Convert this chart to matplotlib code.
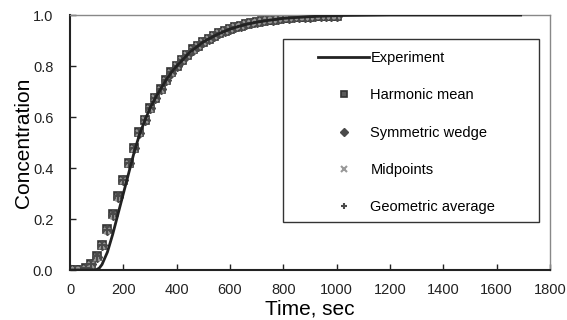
import numpy as np
import matplotlib.pyplot as plt
from matplotlib.patches import Rectangle

plt.rcParams['font.family'] = ['Liberation Sans', 'DejaVu Sans']

# simulated breakthrough curves, sampled every 20 s
t_sim = np.arange(0, 1001, 20)
c_harmonic = [0.0, 0.0, 0.002, 0.008, 0.025, 0.055, 0.10, 0.16, 0.22, 0.29,
              0.355, 0.42, 0.48, 0.54, 0.59, 0.635, 0.675, 0.71, 0.745, 0.775,
              0.80, 0.825, 0.845, 0.865, 0.88, 0.895, 0.907, 0.918, 0.928, 0.937,
              0.945, 0.952, 0.958, 0.963, 0.968, 0.972, 0.976, 0.979, 0.982, 0.985,
              0.987, 0.989, 0.991, 0.992, 0.993, 0.994, 0.995, 0.996, 0.997, 0.997,
              0.998]
c_wedge = [0.0, 0.0, 0.002, 0.007, 0.023, 0.052, 0.097, 0.157, 0.217, 0.287,
           0.352, 0.418, 0.478, 0.538, 0.589, 0.634, 0.674, 0.709, 0.744, 0.774,
           0.80, 0.824, 0.845, 0.864, 0.88, 0.895, 0.907, 0.918, 0.928, 0.937,
           0.945, 0.952, 0.958, 0.963, 0.968, 0.972, 0.976, 0.979, 0.982, 0.985,
           0.987, 0.989, 0.991, 0.992, 0.993, 0.994, 0.995, 0.996, 0.997, 0.997,
           0.998]
c_midpoints = [0.0, 0.0, 0.001, 0.006, 0.021, 0.049, 0.094, 0.154, 0.214, 0.284,
               0.349, 0.415, 0.476, 0.536, 0.587, 0.633, 0.673, 0.708, 0.743, 0.773,
               0.799, 0.824, 0.844, 0.864, 0.879, 0.894, 0.907, 0.918, 0.928, 0.937,
               0.945, 0.952, 0.958, 0.963, 0.968, 0.972, 0.976, 0.979, 0.982, 0.985,
               0.987, 0.989, 0.991, 0.992, 0.993, 0.994, 0.995, 0.996, 0.997, 0.997,
               0.998]
c_geometric = [0.0, 0.0, 0.002, 0.008, 0.024, 0.054, 0.099, 0.159, 0.219, 0.289,
               0.354, 0.419, 0.479, 0.539, 0.59, 0.635, 0.675, 0.71, 0.745, 0.775,
               0.80, 0.825, 0.845, 0.865, 0.88, 0.895, 0.907, 0.918, 0.928, 0.937,
               0.945, 0.952, 0.958, 0.963, 0.968, 0.972, 0.976, 0.979, 0.982, 0.985,
               0.987, 0.989, 0.991, 0.992, 0.993, 0.994, 0.995, 0.996, 0.997, 0.997,
               0.998]

# measured curve
t_exp = [0, 90, 100, 110, 120, 140, 160, 180, 200, 220, 240, 260, 280, 300,
         320, 340, 360, 380, 400, 450, 500, 550, 600, 650, 700, 750, 800, 900,
         1000, 1100, 1200, 1400, 1600, 1690]
c_exp = [0.0, 0.0, 0.002, 0.008, 0.022, 0.07, 0.14, 0.22, 0.30, 0.38, 0.46,
         0.53, 0.585, 0.635, 0.675, 0.71, 0.745, 0.775, 0.80, 0.855, 0.895,
         0.923, 0.945, 0.961, 0.972, 0.98, 0.987, 0.994, 0.998, 0.999, 1.0,
         1.0, 1.0, 1.0]

fig = plt.figure(figsize=(5.67, 3.2), dpi=100)
ax = fig.add_axes([0.1235, 0.156, 0.8465, 0.797])

ax.plot(t_exp, c_exp, color='#222222', lw=2, label='Experiment', zorder=3)
ax.plot(t_sim, c_harmonic, ls='none', marker='s', ms=6, mfc='#5a5a5a',
        mec='#333333', mew=1.2, label='Harmonic mean', zorder=2)
ax.plot(t_sim, c_wedge, ls='none', marker='D', ms=5, color='#4a4a4a',
        label='Symmetric wedge', zorder=2)
ax.plot(t_sim, c_midpoints, ls='none', marker='x', ms=5, mew=1.5,
        color='#999999', label='Midpoints', zorder=2)
ax.plot(t_sim, c_geometric, ls='none', marker='+', ms=6, mew=1.5,
        color='#4a4a4a', label='Geometric average', zorder=2)

ax.set_xlim(0, 1800)
ax.set_ylim(0, 1.0)
ax.set_xticks(np.arange(0, 1801, 200))
ax.set_yticks(np.arange(0, 1.01, 0.2))
ax.set_yticklabels(['%.1f' % v for v in np.arange(0, 1.01, 0.2)])
ax.tick_params(direction='in', length=4, width=1, labelsize=10.5,
               colors='#222222')
ax.tick_params(axis='x', pad=9)
ax.tick_params(axis='y', pad=12)
for s in ['left', 'bottom']:
    ax.spines[s].set_color('#222222')
    ax.spines[s].set_linewidth(1.5)
for s in ['top', 'right']:
    ax.spines[s].set_color('#888888')
    ax.spines[s].set_linewidth(1)

ax.set_xlabel('Time, sec', fontsize=15, labelpad=2)
ax.set_ylabel('Concentration', fontsize=15, labelpad=0)

leg = ax.legend(loc='upper left', bbox_to_anchor=(318 / 567, 1 - 51 / 320),
                bbox_transform=fig.transFigure, frameon=False, fontsize=10.5,
                handlelength=3.5, handletextpad=0.1, labelspacing=1.6,
                borderpad=0, borderaxespad=0, markerscale=0.75)
leg.set_zorder(6)

# legend frame
ax.add_patch(Rectangle((283 / 567, 1 - 222 / 320), 256 / 567, 183 / 320,
                       transform=fig.transFigure, facecolor='white',
                       edgecolor='#333333', lw=1, zorder=5, clip_on=False))

fig.savefig('out.png', dpi=100)
